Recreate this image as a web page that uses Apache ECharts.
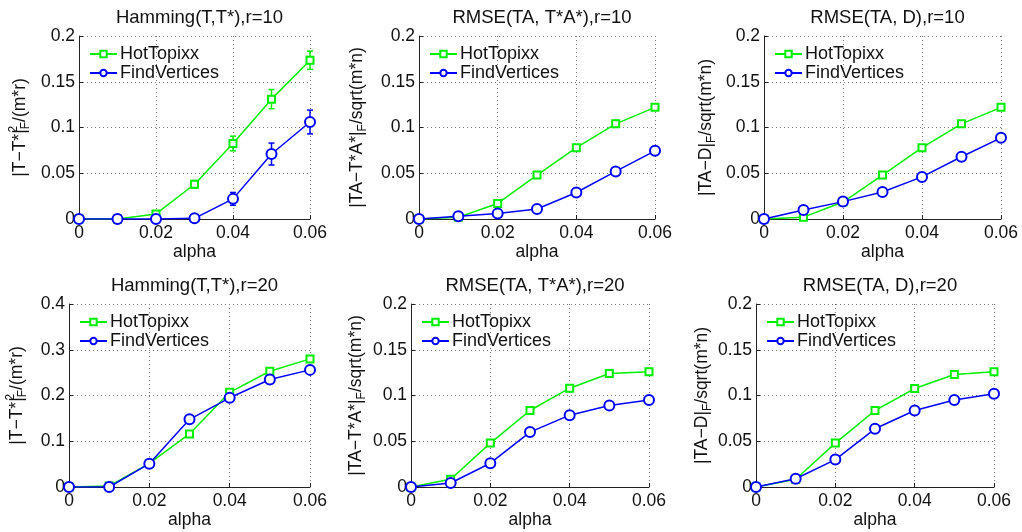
<!DOCTYPE html>
<html><head><meta charset="utf-8">
<script src="https://cdn.jsdelivr.net/npm/echarts@6/dist/echarts.min.js"></script>
<style>html,body{margin:0;padding:0;background:#fff}#c{width:1022px;height:532px}</style>
</head><body><div id="c"></div>
<script>
// ---------- data ----------
const alpha = [0, 0.01, 0.02, 0.03, 0.04, 0.05, 0.06];
const xTicks = [0, 0.02, 0.04, 0.06];
const seriesNames = ['HotTopixx', 'FindVertices'];
const titles = ['Hamming(T,T*),r=10', 'RMSE(TA, T*A*),r=10', 'RMSE(TA, D),r=10',
                'Hamming(T,T*),r=20', 'RMSE(TA, T*A*),r=20', 'RMSE(TA, D),r=20'];
const yMax = [0.2, 0.2, 0.2, 0.4, 0.2, 0.2];
const yStep = [0.05, 0.05, 0.05, 0.1, 0.05, 0.05];

// panel 1: Hamming r=10
const ham10Hot    = [0, 0, 0.0055, 0.038, 0.0825, 0.131, 0.1735];
const ham10HotErr = [0, 0, 0.002, 0.004, 0.008, 0.0105, 0.01];
const ham10Fv     = [0, 0, 0, 0.0007, 0.022, 0.071, 0.106];
const ham10FvErr  = [0, 0, 0, 0.001, 0.007, 0.012, 0.013];
// panel 2: RMSE(TA,T*A*) r=10
const rmA10Hot    = [0, 0.002, 0.017, 0.048, 0.078, 0.104, 0.122];
const rmA10HotErr = [0, 0.001, 0.002, 0.002, 0.002, 0.003, 0.003];
const rmA10Fv     = [0, 0.003, 0.006, 0.011, 0.029, 0.052, 0.0745];
const rmA10FvErr  = [0, 0.001, 0.001, 0.001, 0.002, 0.002, 0.002];
// panel 3: RMSE(TA,D) r=10
const rmD10Hot    = [0, 0.002, 0.0185, 0.048, 0.078, 0.104, 0.122];
const rmD10HotErr = [0, 0.001, 0.002, 0.002, 0.003, 0.003, 0.003];
const rmD10Fv     = [0, 0.0098, 0.019, 0.0295, 0.046, 0.068, 0.0887];
const rmD10FvErr  = [0, 0.001, 0.001, 0.001, 0.002, 0.002, 0.002];
// panel 4: Hamming r=20
const ham20Hot    = [0, 0.002, 0.0516, 0.116, 0.207, 0.253, 0.28];
const ham20HotErr = [0, 0.001, 0.004, 0.004, 0.005, 0.005, 0.005];
const ham20Fv     = [0, 0, 0.051, 0.148, 0.195, 0.235, 0.256];
const ham20FvErr  = [0, 0, 0.004, 0.008, 0.006, 0.005, 0.005];
// panel 5: RMSE(TA,T*A*) r=20
const rmA20Hot    = [0, 0.0084, 0.048, 0.0836, 0.108, 0.124, 0.126];
const rmA20HotErr = [0, 0.001, 0.002, 0.002, 0.003, 0.004, 0.003];
const rmA20Fv     = [0, 0.0044, 0.026, 0.06, 0.0785, 0.089, 0.095];
const rmA20FvErr  = [0, 0.001, 0.002, 0.002, 0.002, 0.002, 0.002];
// panel 6: RMSE(TA,D) r=20
const rmD20Hot    = [0, 0.0084, 0.048, 0.0836, 0.1076, 0.123, 0.126];
const rmD20HotErr = [0, 0.001, 0.002, 0.002, 0.003, 0.004, 0.003];
const rmD20Fv     = [0, 0.009, 0.030, 0.0636, 0.0836, 0.095, 0.102];
const rmD20FvErr  = [0, 0.001, 0.002, 0.002, 0.002, 0.002, 0.002];

const hotData = [ham10Hot, rmA10Hot, rmD10Hot, ham20Hot, rmA20Hot, rmD20Hot];
const hotErr  = [ham10HotErr, rmA10HotErr, rmD10HotErr, ham20HotErr, rmA20HotErr, rmD20HotErr];
const fvData  = [ham10Fv, rmA10Fv, rmD10Fv, ham20Fv, rmA20Fv, rmD20Fv];
const fvErr   = [ham10FvErr, rmA10FvErr, rmD10FvErr, ham20FvErr, rmA20FvErr, rmD20FvErr];

// ---------- layout / style ----------
const FONT = "'Liberation Sans', Arial, Helvetica, sans-serif";
const GREEN = '#00ee00', BLUE = '#0000ff';
const grids = [
  {left: 79,  top: 36,  width: 231, height: 183, gap: 47},
  {left: 419, top: 36,  width: 236, height: 183, gap: 50},
  {left: 764, top: 36,  width: 237, height: 183, gap: 46},
  {left: 69,  top: 304, width: 241, height: 183, gap: 40},
  {left: 411, top: 304, width: 238, height: 183, gap: 43},
  {left: 756, top: 304, width: 238, height: 183, gap: 42}
];
const yNames = [
  '|T\u2212T*|{sup|2}{sub|F}/(m*r)',
  '|TA\u2212T*A*|{sub|F}/sqrt(m*n)',
  '|TA\u2212D|{sub|F}/sqrt(m*n)',
  '|T\u2212T*|{sup|2}{sub|F}/(m*r)',
  '|TA\u2212T*A*|{sub|F}/sqrt(m*n)',
  '|TA\u2212D|{sub|F}/sqrt(m*n)'
];

function renderErr(params, api) {
  const x = api.value(0), y = api.value(1), e = api.value(2);
  if (!e) return null;
  const lo = api.coord([x, y - e]), hi = api.coord([x, y + e]);
  const w = 3;
  const style = {stroke: api.visual('color'), lineWidth: 1.5};
  return {type: 'group', children: [
    {type: 'line', shape: {x1: lo[0], y1: lo[1], x2: hi[0], y2: hi[1]}, style: style},
    {type: 'line', shape: {x1: lo[0] - w, y1: lo[1], x2: lo[0] + w, y2: lo[1]}, style: style},
    {type: 'line', shape: {x1: hi[0] - w, y1: hi[1], x2: hi[0] + w, y2: hi[1]}, style: style}
  ]};
}

const option = {
  backgroundColor: '#fff',
  animation: false,
  textStyle: {fontFamily: FONT},
  title: [], grid: [], xAxis: [], yAxis: [], legend: [], series: []
};

grids.forEach(function (g, i) {
  option.grid.push({left: g.left, top: g.top, width: g.width, height: g.height, containLabel: false});
  option.title.push({
    text: titles[i], left: g.left + g.width / 2, textAlign: 'center',
    top: g.top - 33,
    textStyle: {fontFamily: FONT, fontSize: 18.5, fontWeight: 'normal', color: '#111'}
  });
  option.xAxis.push({
    type: 'value', gridIndex: i, min: 0, max: 0.06, interval: 0.02,
    name: 'alpha', nameLocation: 'middle', nameGap: 20,
    nameTextStyle: {fontFamily: FONT, fontSize: 17.5, color: '#111'},
    axisLine: {show: true, onZero: false, lineStyle: {color: '#222', width: 1}},
    axisTick: {show: true, inside: true, length: 4, lineStyle: {color: '#222'}},
    axisLabel: {fontFamily: FONT, fontSize: 17.5, color: '#111', margin: 5,
      formatter: function (v) { return xTicks.indexOf(+v.toFixed(2)) >= 0 ? String(+v.toFixed(2)) : ''; }},
    splitLine: {show: true, lineStyle: {color: '#777', type: [1, 3], width: 1}}
  });
  option.yAxis.push({
    type: 'value', gridIndex: i, min: 0, max: yMax[i], interval: yStep[i],
    name: yNames[i], nameLocation: 'middle', nameGap: g.gap, nameRotate: 90,
    nameTextStyle: {fontFamily: FONT, fontSize: 17.5, color: '#111',
      rich: {
        sup: {fontFamily: FONT, fontSize: 12, verticalAlign: 'top', width: 0, align: 'left', color: '#111', lineHeight: 24},
        sub: {fontFamily: FONT, fontSize: 12, verticalAlign: 'bottom', color: '#111', lineHeight: 24}
      }},
    axisLine: {show: true, onZero: false, lineStyle: {color: '#222', width: 1}},
    axisTick: {show: true, inside: true, length: 4, lineStyle: {color: '#222'}},
    axisLabel: {fontFamily: FONT, fontSize: 17.5, color: '#111', margin: 4},
    splitLine: {show: true, lineStyle: {color: '#777', type: [1, 3], width: 1}}
  });
  option.legend.push({
    orient: 'vertical', left: g.left + 5, top: g.top + 4,
    data: seriesNames, itemWidth: 27, itemHeight: 8, itemGap: 1,
    textStyle: {fontFamily: FONT, fontSize: 18, color: '#111', padding: [0, 0, 0, -2]},
    selectedMode: false
  });
  const colors = [GREEN, BLUE];
  const symbols = ['emptyRect', 'emptyCircle'];
  const sizes = [7, 10];
  const dataSets = [hotData[i], fvData[i]];
  const errSets = [hotErr[i], fvErr[i]];
  for (let s = 0; s < 2; s++) {
    option.series.push({
      type: 'custom', xAxisIndex: i, yAxisIndex: i, renderItem: renderErr,
      itemStyle: {color: colors[s]}, z: 3,
      data: alpha.map(function (a, k) { return [a, dataSets[s][k], errSets[s][k]]; })
    });
  }
  for (let s = 0; s < 2; s++) {
    option.series.push({
      name: seriesNames[s], type: 'line', xAxisIndex: i, yAxisIndex: i,
      symbol: symbols[s], symbolSize: sizes[s], z: 4 + s,
      lineStyle: {color: colors[s], width: 1.5},
      itemStyle: {color: colors[s], borderColor: colors[s], borderWidth: 1.3},
      data: alpha.map(function (a, k) { return [a, dataSets[s][k]]; })
    });
  }
});

const chart = echarts.init(document.getElementById('c'), null, {renderer: 'canvas'});
chart.setOption(option);
</script>
</body></html>
